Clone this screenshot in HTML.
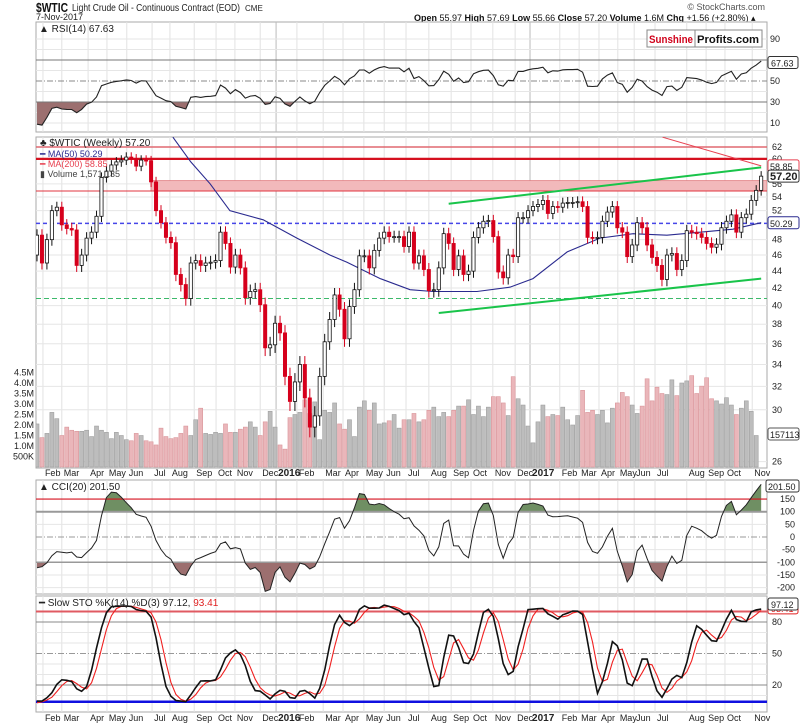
<!DOCTYPE html>
<html><head><meta charset="utf-8"><title>$WTIC chart</title>
<style>
html,body{margin:0;padding:0;background:#fff;}
svg{display:block;font-family:"Liberation Sans",Arial,sans-serif;}
</style></head>
<body>
<svg id="chart" width="800" height="725" viewBox="0 0 800 725" xmlns="http://www.w3.org/2000/svg">
<defs>
<clipPath id="cRsi"><rect x="36" y="22" width="731" height="110"/></clipPath>
<clipPath id="cPrice"><rect x="36" y="137" width="731" height="331"/></clipPath>
<clipPath id="cCci"><rect x="36" y="480" width="731" height="114"/></clipPath>
<clipPath id="cSto"><rect x="36" y="596" width="731" height="116"/></clipPath>
</defs>
<g>
<text x="36" y="12" font-size="13" font-weight="bold" fill="#111" textLength="32" lengthAdjust="spacingAndGlyphs">$WTIC</text>
<text x="72" y="11" font-size="10" fill="#222" textLength="168" lengthAdjust="spacingAndGlyphs">Light Crude Oil - Continuous Contract (EOD)</text>
<text x="245" y="11" font-size="8" fill="#222">CME</text>
<text x="36" y="20" font-size="9" fill="#222">7-Nov-2017</text>
<text x="765" y="10" font-size="9" fill="#555" text-anchor="end">© StockCharts.com</text>
<text x="414" y="21" font-size="9" fill="#111"><tspan font-weight="bold">Open</tspan> 55.97  <tspan font-weight="bold">High</tspan> 57.69  <tspan font-weight="bold">Low</tspan> 55.66  <tspan font-weight="bold">Close</tspan> 57.20  <tspan font-weight="bold">Volume</tspan> 1.6M  <tspan font-weight="bold">Chg</tspan> +1.56 (+2.80%) ▴</text>
</g>
<g id="grid"></g>
<g id="layers"></g>
<g>
<rect x="647" y="30" width="115" height="17" fill="#fff" stroke="#888"/>
<line x1="695" y1="30" x2="695" y2="47" stroke="#888"/>
<text x="649" y="43" font-size="11" font-weight="bold" fill="#d0021b" textLength="44" lengthAdjust="spacingAndGlyphs">Sunshine</text>
<text x="697" y="43" font-size="11" font-weight="bold" fill="#111" textLength="62" lengthAdjust="spacingAndGlyphs">Profits.com</text>
</g>
</svg>
<script>
// ---------- DATA ----------
const preCloses = [93,92,90,85,83,81,80,78,76,76,75,66,67,66,62,57,55,53,48,46];
const closes = [48.6,45,48,52,52.5,50,49.5,49.3,44.7,46,48.2,49,51.2,57,58,59,59.5,59.8,60.3,60,58.8,59.8,59.7,56.3,52,50.3,48.3,47.6,43.6,42.4,40.8,45,45.3,44.7,45,45.1,45.3,49,47.5,44.5,46,44.4,40.9,41.6,41.8,40.1,35.6,35.9,38.1,37.1,32.9,30.7,32.4,34,31,28.6,29.5,32.9,36.2,38.5,41.2,39.6,36.5,39.9,41.8,45.9,45.9,44.4,46.6,48.2,49,48.4,48.4,48.4,47.1,
49,45,45.9,44.2,41.7,41.8,44.4,48.8,47.5,44.2,45.9,43.6,44,48.3,49.6,50.5,50.6,48.4,43.9,43.2,46,45.8,51,51,52,52.6,52.9,53.5,51.6,52.6,52.5,53.1,53.2,53.2,53.3,52.6,48.3,48.2,48.3,50.5,51.8,52.6,49.6,49,45.8,47.3,50.3,49.6,47.3,45.7,44.7,43,46,46.2,44.2,45.3,49.2,49,48.8,48.3,47.5,47,47.4,49.6,50.5,51.4,49,51,51.5,53.5,55,57.2];
const volumes = [2.05,1.4,1.6,2.6,2.3,1.5,1.9,1.75,1.7,1.7,1.75,1.45,1.95,1.75,1.65,1.35,1.65,1.5,1.3,1.25,1.6,1.5,1.25,1.2,1.05,1.85,1.45,1.35,1.4,1.6,1.95,1.5,2.25,2.8,1.6,1.55,1.65,1.6,2.05,1.65,1.65,1.8,1.9,2.15,1.9,1.5,2.15,2.65,1.9,1.05,0.85,2.35,2.5,2.6,3.2,2.55,3.1,1.3,2.7,2.6,3.05,2.05,1.8,2.25,1.45,2.85,3.15,2.7,3.05,2.05,2.1,2.2,2.5,1.85,
2.25,2.25,2.55,2.15,2.25,2.7,2.85,2.4,2.6,2.4,2.7,2.9,2.9,3.2,2.5,2.9,2.4,2.85,3.35,3.35,3.05,2.45,4.3,3.25,2.95,1.95,1.15,2.15,2.95,2.4,2.5,2.45,2.85,2.25,2.0,2.45,3.65,2.6,2.7,2.5,2.7,2.1,2.8,3.05,3.55,3.35,2.95,2.55,2.9,4.2,3.15,3.8,3.5,3.45,4.15,3.4,4.0,4.1,4.35,3.5,3.85,4.25,3.25,3.15,3.0,3.3,2.95,2.5,2.8,3.15,2.65,1.5];
const ma50Weeks = [27.4,31,34.9,38.9,45.6,52.4,59.1,62.5,69.2,75.2,79.8,88.7,95.4,100,106.9,113.5,120.2,127,133.7,140.3,146];
const ma50Vals = [63.7,59.5,56,52,50.7,48.2,46,45.1,43.1,41.8,41.6,41.6,42.1,43.1,46.4,48.2,48.8,48.6,49,49.4,50.3];
const ma200Weeks = [126.1,146];
const ma200Vals = [63.7,58.85];
const monthNames = ["Feb","Mar","Apr","May","Jun","Jul","Aug","Sep","Oct","Nov","Dec","2016","Feb","Mar","Apr","May","Jun","Jul","Aug","Sep","Oct","Nov","Dec","2017","Feb","Mar","Apr","May","Jun","Jul","Aug","Sep","Oct","Nov"];
const monthWeeks = [1.2,5.0,10.3,14.1,18.1,23.2,26.8,31.7,36.1,39.9,45,48.2,52.4,57.7,61.7,65.9,70,74.4,79,83.5,87.5,91.9,96.4,99.4,105.4,109.3,113.3,117.1,120.4,124.6,131,134.9,138.7,144.2];
const priceTicks = [62,60,56,54,52,48,46,44,42,40,38,36,34,32,30,26];
const volTicks = [4.5,4.0,3.5,3.0,2.5,2.0,1.5,1.0,0.5];
const volTickLabels = ["4.5M","4.0M","3.5M","3.0M","2.5M","2.0M","1.5M","1.0M","500K"];
const rsiTicks = [90,50,30,10];
const cciTicks = [150,100,50,0,-50,-100,-150,-200];
const stoTicks = [80,50,20];
const upperTrend = [[83,53.0],[146,58.6]];
const lowerTrend = [[81,39.2],[146,43.1]];

// ---------- SCALES ----------
const NS="http://www.w3.org/2000/svg";
const X0=37, DX=4.96;
const X=i=>X0+i*DX;
const Yp=p=>147+362*Math.log(62/p);
const Yv=v=>467-v*21;
const Yr=v=>102-(v-30)*1.05;
const Yc=v=>537-v*0.253;
const Ys=v=>685-(v-20)*1.05;
const svg=document.getElementById('chart');
const grid=document.getElementById('grid');
const layers=document.getElementById('layers');
function mk(tag,attrs,parent){const e=document.createElementNS(NS,tag);for(const k in attrs)e.setAttribute(k,attrs[k]);(parent||layers).appendChild(e);return e;}
function txt(x,y,s,attrs,parent){const t=mk('text',Object.assign({x:x,y:y,'font-size':9,fill:'#222'},attrs||{}),parent);t.textContent=s;return t;}

const panels=[[22,110,'rsi-panel'],[137,331,'price-panel'],[480,114,'cci-panel'],[596,116,'sto-panel']];
panels.forEach(p=>{const r=mk('rect',{x:36,y:p[0],width:731,height:p[1],fill:'#fff',stroke:'#aaa'},grid);

});
monthWeeks.forEach((w,k)=>{const x=X(w);const bold=monthNames[k].length===4;
panels.forEach(p=>{mk('line',{x1:x,y1:p[0],x2:x,y2:p[0]+p[1],stroke:bold?'#bbb':'#e2e2e2'},grid);});
[476,721].forEach(y=>{const t=txt(x+2,y,monthNames[k],{'font-size':bold?10:9,'font-weight':bold?'bold':'normal',fill:'#222'},grid);

});});
function hgrid(ys){ys.forEach(y=>mk('line',{x1:36,y1:y,x2:767,y2:y,stroke:'#e6e6e6'},grid));}
hgrid([Yr(90),Yr(80),Yr(60),Yr(40),Yr(20),Yr(10)]);
hgrid(priceTicks.map(Yp));
hgrid([Yc(150),Yc(50),Yc(-50),Yc(-150),Yc(-200)]);
hgrid([Ys(90),Ys(70),Ys(60),Ys(40),Ys(30),Ys(10)]);

// ---------- INDICATORS ----------
const all=preCloses.concat(closes);
const P=preCloses.length;
const opens=all.map((c,i)=>i?all[i-1]:c);
const highs=all.map((c,i)=>Math.max(c,opens[i])+0.8);
const lows=all.map((c,i)=>Math.min(c,opens[i])-0.8);
const rsi=[];let ag=0,al=0;
for(let i=1;i<all.length;i++){const d=all[i]-all[i-1];const g=Math.max(d,0),l=Math.max(-d,0);
if(i<=14){ag+=g/14;al+=l/14;}else{ag=(ag*13+g)/14;al=(al*13+l)/14;}
rsi[i]=al===0?100:100-100/(1+ag/al);}
const tp=all.map((c,i)=>(c+highs[i]+lows[i])/3);const cci=[];
for(let i=19;i<all.length;i++){const w=tp.slice(i-19,i+1);const m=w.reduce((a,b)=>a+b)/20;const md=w.reduce((a,b)=>a+Math.abs(b-m),0)/20;cci[i]=(tp[i]-m)/(0.015*md);}
const fk=[];for(let i=13;i<all.length;i++){const hh=Math.max(...highs.slice(i-13,i+1)),ll=Math.min(...lows.slice(i-13,i+1));fk[i]=(all[i]-ll)/(hh-ll)*100;}
const sk=[],sd=[];for(let i=15;i<all.length;i++)sk[i]=(fk[i]+fk[i-1]+fk[i-2])/3;
for(let i=17;i<all.length;i++)sd[i]=(sk[i]+sk[i-1]+sk[i-2])/3;
function series(arr,Y){const pts=[];for(let i=0;i<closes.length;i++){const v=arr[i+P];if(v!==undefined)pts.push([X(i),Y(v)]);}return pts;}
function pl(pts){return pts.map(p=>p[0].toFixed(1)+','+p[1].toFixed(1)).join(' ');}

// ---------- RSI PANEL ----------
const gR=mk('g',{'clip-path':'url(#cRsi)'});
const rsiPts=series(rsi,Yr);
function fillBand(g,pts,base,above,color,clip){const d='M'+pts[0][0]+','+base+' L'+pl(pts)+' L'+pts[pts.length-1][0]+','+base+' Z';
const cp=mk('clipPath',{id:clip},svg.querySelector('defs'));
mk('rect',above?{x:36,y:0,width:731,height:base}:{x:36,y:base,width:731,height:725-base},cp);
mk('path',{d:d,fill:color,'clip-path':'url(#'+clip+')'},g);}
fillBand(gR,rsiPts,Yr(30),false,'#9c6f6f','rsiLow');
fillBand(gR,rsiPts,Yr(70),true,'#6f8f63','rsiHigh');
mk('line',{x1:36,y1:Yr(70),x2:767,y2:Yr(70),stroke:'#777'},gR);
mk('line',{x1:36,y1:Yr(30),x2:767,y2:Yr(30),stroke:'#777'},gR);
mk('line',{x1:36,y1:Yr(50),x2:767,y2:Yr(50),stroke:'#888','stroke-dasharray':'6,2,1,2'},gR);
const rl=mk('polyline',{points:pl(rsiPts),fill:'none',stroke:'#222','stroke-width':1.1},gR);


txt(39,32,'▲ RSI(14) 67.63',{'font-size':10,fill:'#222'});
rsiTicks.forEach(v=>txt(770,Yr(v)+3,String(v),{'font-size':9}));
mk('rect',{x:768,y:Yr(67.63)-6,width:30,height:12,fill:'#fff',stroke:'#333',rx:2});
txt(771,Yr(67.63)+4,'67.63',{'font-size':9});

// ---------- PRICE PANEL ----------
const gP=mk('g',{'clip-path':'url(#cPrice)'});
closes.forEach((c,i)=>{if(volumes[i]===undefined)return;const dn=c<all[i+P-1];
const b=mk('rect',{x:X(i)-2,y:Yv(volumes[i]),width:4,height:467-Yv(volumes[i]),fill:dn?'#eab6ba':'#bdbdbd',stroke:dn?'#d9959a':'#9e9e9e','stroke-width':0.6},gP);

});
const zone=mk('rect',{x:151,y:Yp(56.5),width:616,height:Yp(54.9)-Yp(56.5),fill:'#f2b9bb',stroke:'#e07a7e','stroke-width':0.8},gP);


mk('line',{x1:36,y1:Yp(54.9),x2:767,y2:Yp(54.9),stroke:'#e0343f','stroke-width':1},gP);
mk('line',{x1:36,y1:Yp(62),x2:767,y2:Yp(62),stroke:'#e06870','stroke-width':1.5},gP);
mk('line',{x1:36,y1:Yp(60),x2:767,y2:Yp(60),stroke:'#d5101f','stroke-width':2.2},gP);
mk('line',{x1:36,y1:Yp(50.2),x2:767,y2:Yp(50.2),stroke:'#4646e8','stroke-width':1.5,'stroke-dasharray':'4,3'},gP);
mk('line',{x1:36,y1:Yp(40.8),x2:767,y2:Yp(40.8),stroke:'#3cb96a','stroke-width':1,'stroke-dasharray':'5,3'},gP);
const ma50=mk('polyline',{points:pl(ma50Weeks.map((w,k)=>[X(w),Yp(ma50Vals[k])])),fill:'none',stroke:'#2a2a8f','stroke-width':1.1},gP);


const ma200=mk('polyline',{points:pl(ma200Weeks.map((w,k)=>[X(w),Yp(ma200Vals[k])])),fill:'none',stroke:'#e84050','stroke-width':1},gP);


[upperTrend,lowerTrend].forEach((t,k)=>{const l=mk('line',{x1:X(t[0][0]),y1:Yp(t[0][1]),x2:X(t[1][0]),y2:Yp(t[1][1]),stroke:'#19c44a','stroke-width':2},gP);

});
closes.forEach((c,i)=>{const j=i+P;const o=opens[j];const x=X(i);const dn=c<o;const col=dn?'#d6001c':'#111';
mk('line',{x1:x,y1:Yp(highs[j]),x2:x,y2:Yp(lows[j]),stroke:col,'stroke-width':1},gP);
const top=Yp(Math.max(o,c)),bot=Yp(Math.min(o,c));
const r=mk('rect',{x:x-1.6,y:top,width:3.2,height:Math.max(bot-top,1),fill:dn?'#d6001c':'#fff',stroke:col,'stroke-width':0.8},gP);

});
txt(40,146,'♣ $WTIC (Weekly) 57.20',{'font-size':10,fill:'#222'});
txt(40,157,'━ MA(50) 50.29',{'font-size':9,fill:'#2a2a8f'});
txt(40,167,'━ MA(200) 58.85',{'font-size':9,fill:'#e84050'});
txt(40,177,'▮ Volume 1,571,135',{'font-size':9,fill:'#444'});
priceTicks.forEach(v=>{const t=txt(772,Yp(v)+3,String(v),{'font-size':9});

});
volTicks.forEach((v,k)=>txt(34,Yv(v)+3,volTickLabels[k],{'font-size':9,'text-anchor':'end'}));
function box(y,label,stroke,bold){mk('rect',{x:768,y:y-6,width:31,height:12,fill:'#fff',stroke:stroke,rx:2});txt(770,y+4,label,{'font-size':bold?11:9,'font-weight':bold?'bold':'normal'});}
box(Yp(58.85),'58.85','#e84050');
box(Yp(57.2),'57.20','#333',true);
box(Yp(50.29),'50.29','#2a2a8f');
box(Yv(1.57),'1571135','#555');

// ---------- CCI PANEL ----------
const gC=mk('g',{'clip-path':'url(#cCci)'});
const cciPts=series(cci,Yc);
fillBand(gC,cciPts,Yc(100),true,'#6f8f63','cciHigh');
fillBand(gC,cciPts,Yc(-100),false,'#9c6f6f','cciLow');
mk('line',{x1:36,y1:Yc(150),x2:767,y2:Yc(150),stroke:'#d5101f','stroke-width':1.2},gC);
mk('line',{x1:36,y1:Yc(100),x2:767,y2:Yc(100),stroke:'#999','stroke-width':2},gC);
mk('line',{x1:36,y1:Yc(-100),x2:767,y2:Yc(-100),stroke:'#999','stroke-width':1.5},gC);
mk('line',{x1:36,y1:Yc(0),x2:767,y2:Yc(0),stroke:'#999','stroke-dasharray':'6,2,1,2'},gC);
const cl=mk('polyline',{points:pl(cciPts),fill:'none',stroke:'#222','stroke-width':1},gC);


txt(39,490,'▲ CCI(20) 201.50',{'font-size':10});
cciTicks.forEach(v=>txt(795,Yc(v)+3,String(v),{'font-size':9,'text-anchor':'end'}));
mk('rect',{x:766,y:Yc(201.5)-6,width:33,height:12,fill:'#fff',stroke:'#333',rx:2});
txt(768,Yc(201.5)+4,'201.50',{'font-size':9});

// ---------- STO PANEL ----------
const gS=mk('g',{'clip-path':'url(#cSto)'});
mk('line',{x1:36,y1:Ys(90),x2:767,y2:Ys(90),stroke:'#e05a62','stroke-width':2},gS);
mk('line',{x1:36,y1:Ys(80),x2:767,y2:Ys(80),stroke:'#888'},gS);
mk('line',{x1:36,y1:Ys(20),x2:767,y2:Ys(20),stroke:'#888'},gS);
mk('line',{x1:36,y1:Ys(50),x2:767,y2:Ys(50),stroke:'#999','stroke-dasharray':'6,2,1,2'},gS);
mk('line',{x1:36,y1:Ys(4),x2:767,y2:Ys(4),stroke:'#1010e0','stroke-width':2.5},gS);
const dl=mk('polyline',{points:pl(series(sd,Ys)),fill:'none',stroke:'#f02020','stroke-width':1.1},gS);


const kl=mk('polyline',{points:pl(series(sk,Ys)),fill:'none',stroke:'#111','stroke-width':1.6},gS);


const st=txt(39,606,'━ Slow STO %K(14) %D(3) 97.12, ',{'font-size':10});
const st2=mk('tspan',{fill:'#e02020'},st);st2.textContent='93.41';
stoTicks.forEach(v=>txt(772,Ys(v)+3,String(v),{'font-size':9}));
mk('rect',{x:768,y:Ys(93.41)-6,width:30,height:12,fill:'#fff',stroke:'#e02020',rx:2});
txt(771,Ys(93.41)+4,'93.41',{'font-size':9,fill:'#e02020'});
mk('rect',{x:768,y:Ys(97.12)-6,width:30,height:12,fill:'#fff',stroke:'#333',rx:2});
txt(771,Ys(97.12)+4,'97.12',{'font-size':9});
</script>
</body></html>
